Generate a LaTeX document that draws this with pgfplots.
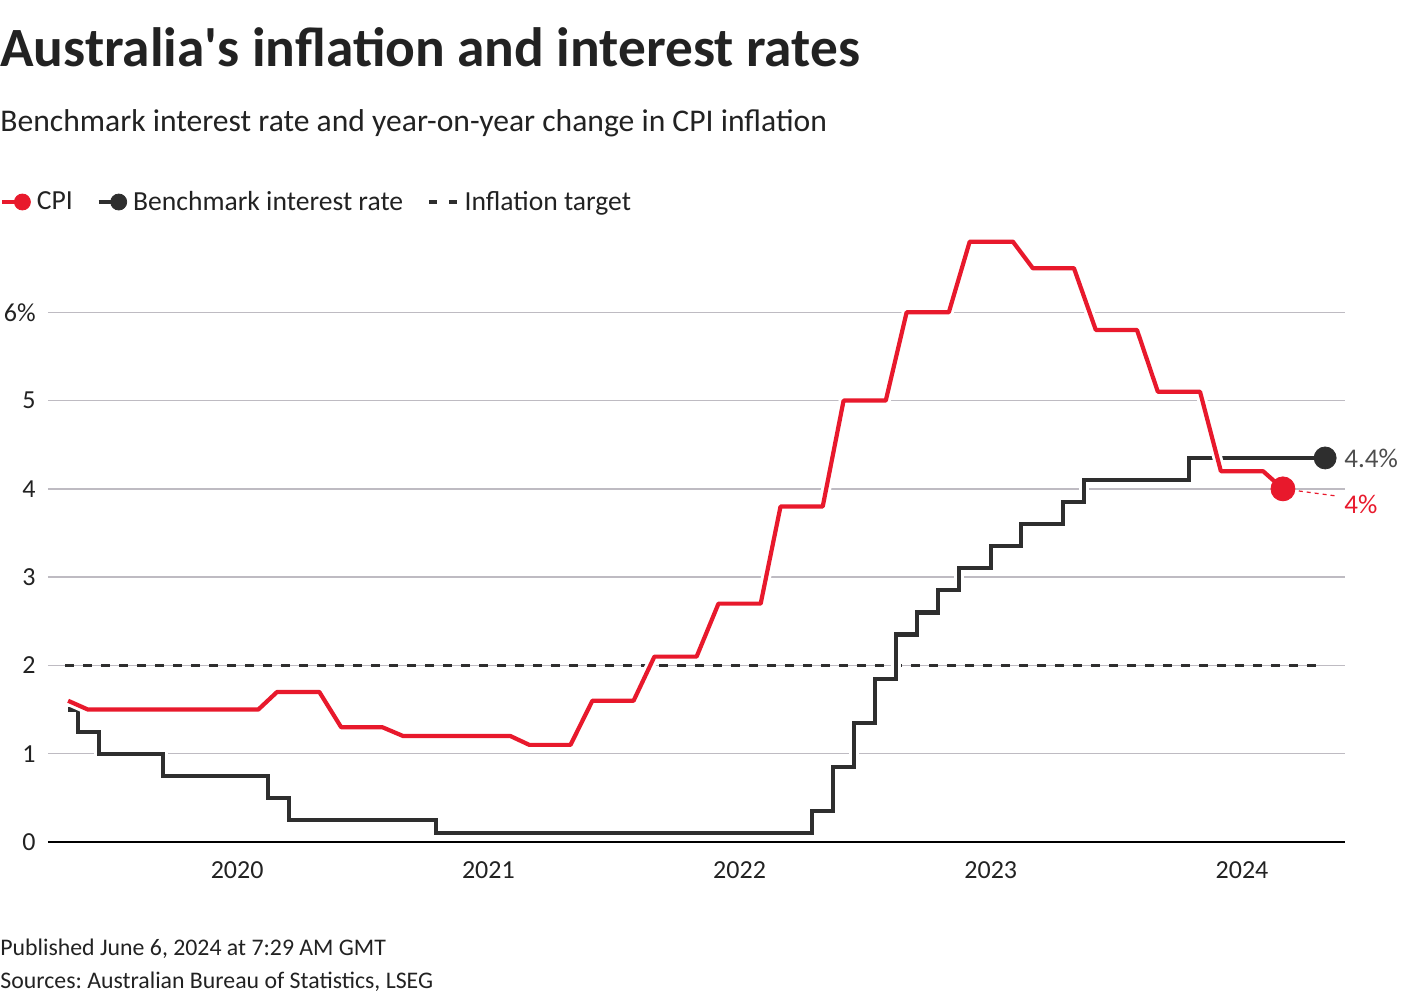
\documentclass[border=0pt]{standalone}
\usepackage{pgfplots}
\pgfplotsset{compat=1.18}
\usepackage{fontspec}
\setmainfont{Carlito}
\frenchspacing
\definecolor{cpired}{HTML}{E8192C}
\definecolor{ratedark}{HTML}{2E2E2E}
\definecolor{gridc}{HTML}{BEBBC2}
\definecolor{txt}{HTML}{222222}
\definecolor{lbl}{HTML}{4D4D4D}

\pgfplotstableread{
x y
2019.327 1.6
2019.406 1.5
2020.084 1.5
2020.159 1.7
2020.327 1.7
2020.414 1.3
2020.578 1.3
2020.661 1.2
2021.088 1.2
2021.163 1.1
2021.327 1.1
2021.414 1.6
2021.578 1.6
2021.661 2.1
2021.829 2.1
2021.916 2.7
2022.084 2.7
2022.163 3.8
2022.331 3.8
2022.414 5.0
2022.582 5.0
2022.665 6.0
2022.833 6.0
2022.916 6.8
2023.088 6.8
2023.167 6.5
2023.331 6.5
2023.418 5.8
2023.582 5.8
2023.665 5.1
2023.833 5.1
2023.916 4.2
2024.084 4.2
2024.163 4.0
}\cpidata

\pgfplotstableread{
x y
2019.327 1.5
2019.367 1.25
2019.450 1.0
2019.705 0.75
2020.124 0.5
2020.207 0.25
2020.793 0.1
2022.287 0.35
2022.371 0.85
2022.454 1.35
2022.538 1.85
2022.622 2.35
2022.705 2.6
2022.789 2.85
2022.873 3.1
2023.000 3.35
2023.120 3.6
2023.287 3.85
2023.371 4.1
2023.789 4.35
2024.331 4.35
}\ratedata

\begin{document}
\begin{tikzpicture}
\useasboundingbox (0,0) rectangle (710pt,-500pt);
\node[anchor=base west, inner sep=0pt, font=\bfseries\fontsize{27.7}{30}\selectfont, text=txt] at (0pt,-33.5pt) {Australia\textquotesingle s inflation and interest rates};
\node[anchor=base west, inner sep=0pt, font=\fontsize{15.8}{18}\selectfont, text=txt] at (0pt,-66pt) {Benchmark interest rate and year-on-year change in CPI inflation};
\node[anchor=base west, inner sep=0pt, font=\fontsize{11.9}{13}\selectfont, text=txt] at (0pt,-477.5pt) {Published June 6, 2024 at 7:29 AM GMT};
\node[anchor=base west, inner sep=0pt, font=\fontsize{11.9}{13}\selectfont, text=txt] at (0pt,-494pt) {Sources: Australian Bureau of Statistics, LSEG};

\begin{axis}[
  at={(24pt,-421pt)}, anchor=south west,
  scale only axis, width=648.5pt, height=309pt,
  xmin=2019.247, xmax=2024.41, ymin=0, ymax=7,
  axis line style={draw=none},
  ytick={1,2,3,4,5,6}, yticklabels={1,2,3,4,5,6\%},
  extra y ticks={0}, extra y tick labels={0},
  extra y tick style={ymajorgrids=true, major grid style={black, line width=1pt}},
  ymajorgrids, major grid style={gridc, line width=0.7pt},
  xtick={2020,2021,2022,2023,2024}, xticklabels={2020,2021,2022,2023,2024},
  major tick length=0pt,
  tick label style={font=\fontsize{13}{15}\selectfont, text=txt},
  yticklabel style={anchor=east, inner sep=0pt, xshift=-6pt},
  xticklabel style={anchor=north, inner sep=0pt, yshift=-9.5pt},
  clip=false,
  legend style={at={(axis description cs:-0.037,1.0356)}, anchor=west, draw=none, fill=none,
    inner sep=0pt, font=\fontsize{13.8}{15}\selectfont, text=txt,
    /tikz/every even column/.append style={column sep=9pt},
    nodes={inner sep=3pt}},
  legend columns=-1,
]
% target
\addplot[ratedark, line width=1.8pt, dash pattern=on 4.5pt off 4.5pt, forget plot] coordinates {(2019.315,2) (2024.307,2)};
% rate
\addplot[white, line width=5pt, const plot, forget plot] table[x=x,y=y] {\ratedata};
\addplot[ratedark, line width=2.1pt, const plot, forget plot] table[x=x,y=y] {\ratedata};
\addplot[only marks, mark=*, mark size=5.5pt, ratedark, forget plot] coordinates {(2024.331,4.35)};
% cpi
\addplot[white, line width=5pt, forget plot, line join=round] table[x=x,y=y] {\cpidata};
\addplot[cpired, line width=2.1pt, forget plot, line join=round] table[x=x,y=y] {\cpidata};
\addplot[cpired, line width=0.6pt, dash pattern=on 2pt off 2pt, forget plot] coordinates {(2024.163,4.0) (2024.374,3.92)};
\addplot[only marks, mark=*, mark size=6pt, cpired, forget plot] coordinates {(2024.163,4.0)};

\node[anchor=west, inner sep=0pt, text=lbl, font=\fontsize{13.5}{15}\selectfont] at (axis cs:2024.406,4.35) {4.4\%};
\node[anchor=west, inner sep=0pt, text=cpired, font=\fontsize{13.5}{15}\selectfont] at (axis cs:2024.406,3.82) {4\%};

\addlegendimage{legend image code/.code={\draw[cpired, line width=2pt] (0pt,0pt) -- (9pt,0pt); \fill[cpired] (10pt,0pt) circle (4pt);}}
\addlegendentry{CPI}
\addlegendimage{legend image code/.code={\draw[ratedark, line width=2pt] (0pt,0pt) -- (9pt,0pt); \fill[ratedark] (10pt,0pt) circle (4pt);}}
\addlegendentry{Benchmark interest rate}
\addlegendimage{legend image code/.code={\draw[ratedark, line width=1.7pt] (0pt,0pt) -- (4pt,0pt); \draw[ratedark, line width=1.7pt] (10pt,0pt) -- (14pt,0pt);}}
\addlegendentry{Inflation target}
\end{axis}
\end{tikzpicture}
\end{document}
